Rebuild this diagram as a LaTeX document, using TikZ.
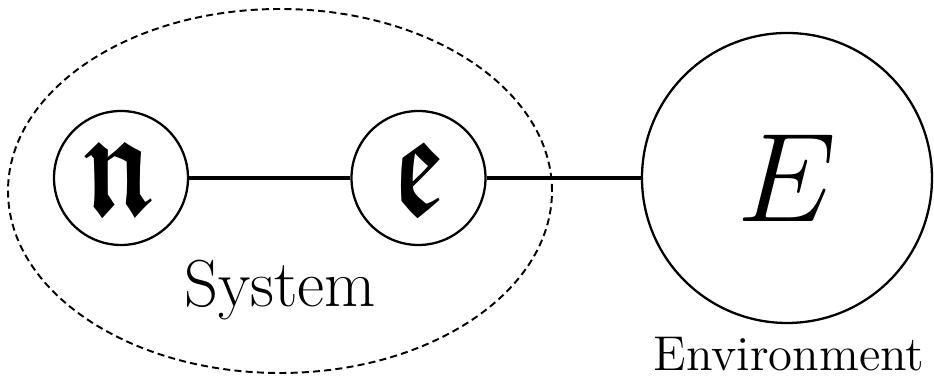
\RequirePackage{fix-cm}
\documentclass[tikz,border=0pt]{standalone}
\usepackage{amsmath,amssymb}
\DeclareFontFamily{U}{euf}{}
\DeclareFontShape{U}{euf}{m}{n}{<-6>eufm5<6-8>eufm7<8->eufm10}{}
\DeclareFontShape{U}{euf}{b}{n}{<-6>eufb5<6-8>eufb7<8->eufb10}{}
\newcommand{\frk}[1]{\scalebox{0.88}[1.2]{$\boldsymbol{\mathfrak{#1}}$}}
\usetikzlibrary{shapes.geometric}

\begin{document}
\begin{tikzpicture}[
  part/.style ={draw, circle, line width=0.65pt, minimum size=1.34cm, inner sep=0pt,
                font=\fontsize{36}{42}\selectfont},
  bath/.style ={draw, circle, line width=0.65pt, minimum size=2.9cm, inner sep=0pt,
                font=\fontsize{36}{42}\selectfont},
  grp/.style  ={draw, ellipse, dash pattern=on 2pt off 1.2pt, line width=0.55pt,
                minimum width=5.44cm, minimum height=3.64cm, inner sep=0pt},
  tag/.style  ={anchor=base},
  link/.style ={line width=1pt},
]
\useasboundingbox (0,0) rectangle (9.34,3.76);

% ---------------- the system: two coupled parts ----------------
\node[grp] (sys) at (2.80,1.85) {};
\node[part] (pn) at (1.21,1.98) {\frk{n}};
\node[part] (pe) at (4.185,1.98) {\frk{e}};
\node[tag, font=\fontsize{18.9}{22}\selectfont] (syslbl) at (2.80,0.69) {System};

% ---------------- the environment ----------------
\node[bath] (env) at (7.87,1.98) {$E$};
\node[tag, font=\fontsize{13.9}{16}\selectfont] (envlbl) at (7.89,0.05) {Environment};

\draw[link] (pn) -- (pe);
\draw[link] (pe) -- (env);

\end{tikzpicture}
\end{document}
